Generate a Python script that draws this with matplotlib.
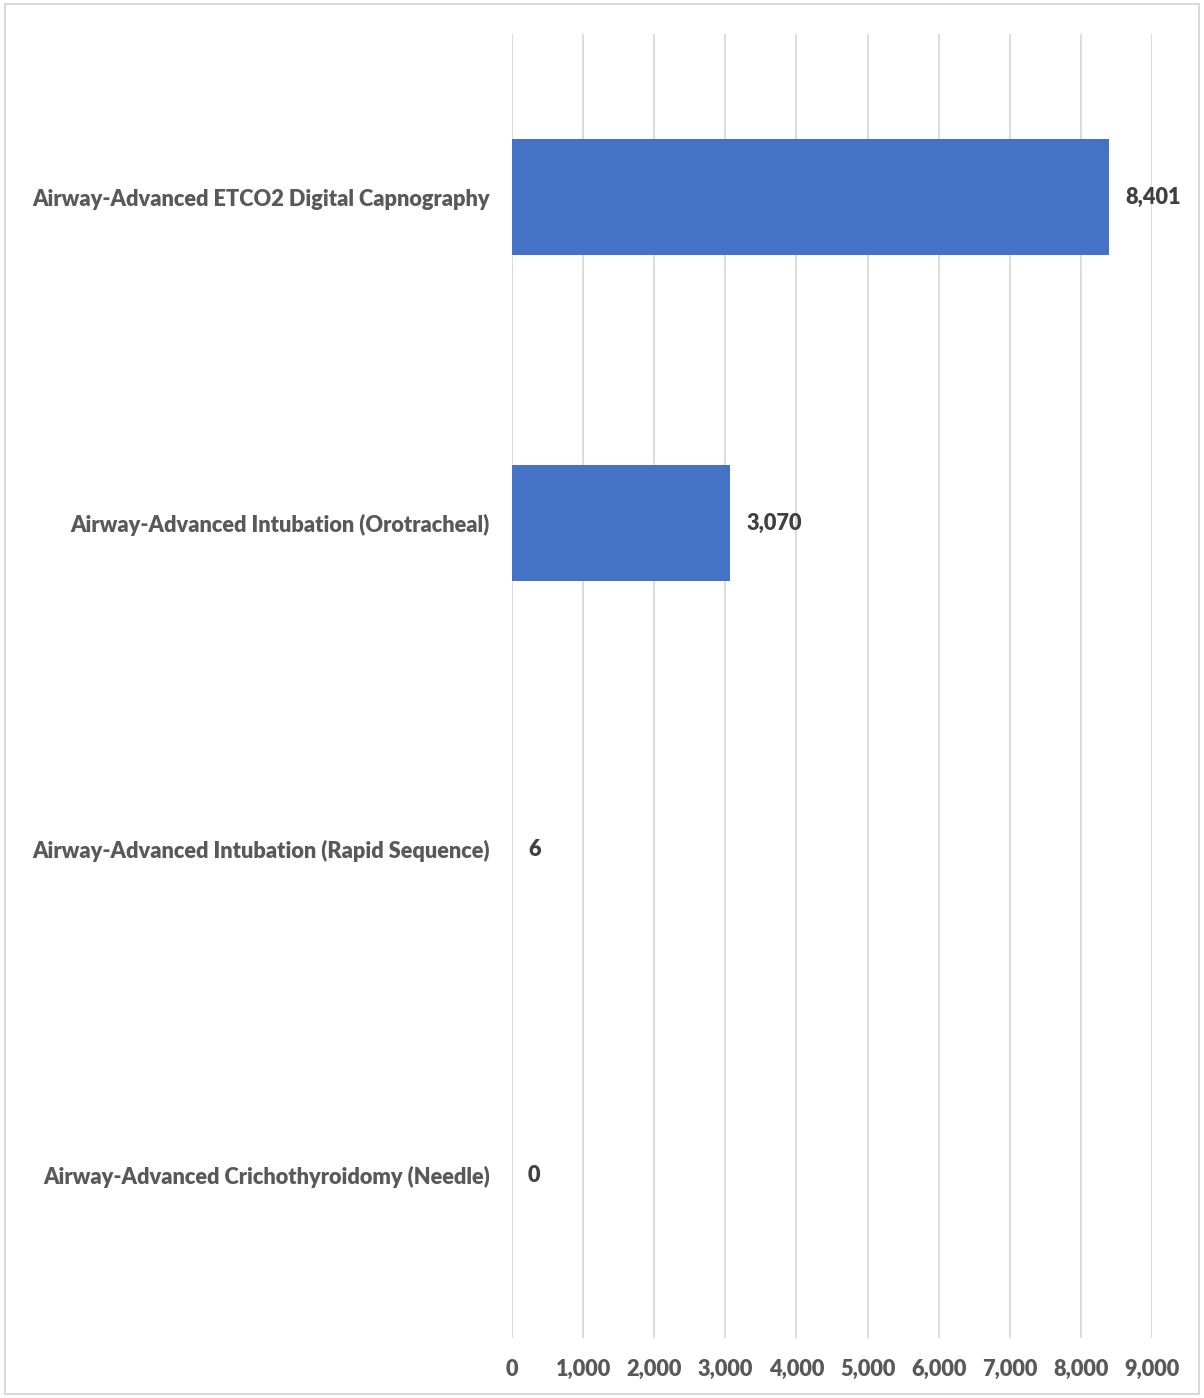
import numpy as np
from matplotlib import pyplot as plt
from matplotlib.patches import Rectangle
from matplotlib.ticker import FuncFormatter, MultipleLocator

plt.rcParams['font.family'] = ['Lato', 'DejaVu Sans']

labels = ['Airway-Advanced ETCO2 Digital Capnography',
          'Airway-Advanced Intubation (Orotracheal)',
          'Airway-Advanced Intubation (Rapid Sequence)',
          'Airway-Advanced Crichothyroidomy (Needle)']
counts = [8401, 3070, 6, 0]

W, H = 1204, 1398
fig = plt.figure(figsize=(W / 100, H / 100), dpi=100)
ax = fig.add_axes([512 / W, 60 / H, 640 / W, 1304 / H])

# chart border
fig.patches.append(Rectangle((5 / W, 4 / H), 1194 / W, 1390 / H, transform=fig.transFigure,
                             fill=False, edgecolor='#d9d9d9', linewidth=1.5))

ind = np.arange(len(counts))
ax.barh(ind, counts, height=0.353, color='#4472C4', zorder=3)
ax.set_ylim(len(counts) - 0.5, -0.5)
ax.set_xlim(0, 9000)
ax.xaxis.set_major_locator(MultipleLocator(1000))
ax.xaxis.set_major_formatter(FuncFormatter(lambda v, p: '{:,.0f}'.format(v)))
ax.grid(axis='x', color='#d9d9d9', linewidth=1.3, zorder=0)
ax.set_yticks(ind)
ax.set_yticklabels(labels)

for s in ax.spines.values():
    s.set_visible(False)
ax.tick_params(axis='both', length=0, colors='#595959', labelsize=15.7)
ax.tick_params(axis='x', pad=15)
ax.tick_params(axis='y', pad=16)
for t in ax.get_xticklabels() + ax.get_yticklabels():
    t.set_fontweight('heavy')

# value labels
for i in range(len(counts)):
    ax.annotate('{:,}'.format(counts[i]), (counts[i], ind[i]), xytext=(16, 0),
                textcoords='offset pixels', va='center', ha='left',
                fontsize=15.7, fontweight='heavy', color='#404040')

fig.savefig('out.png', dpi=100)
